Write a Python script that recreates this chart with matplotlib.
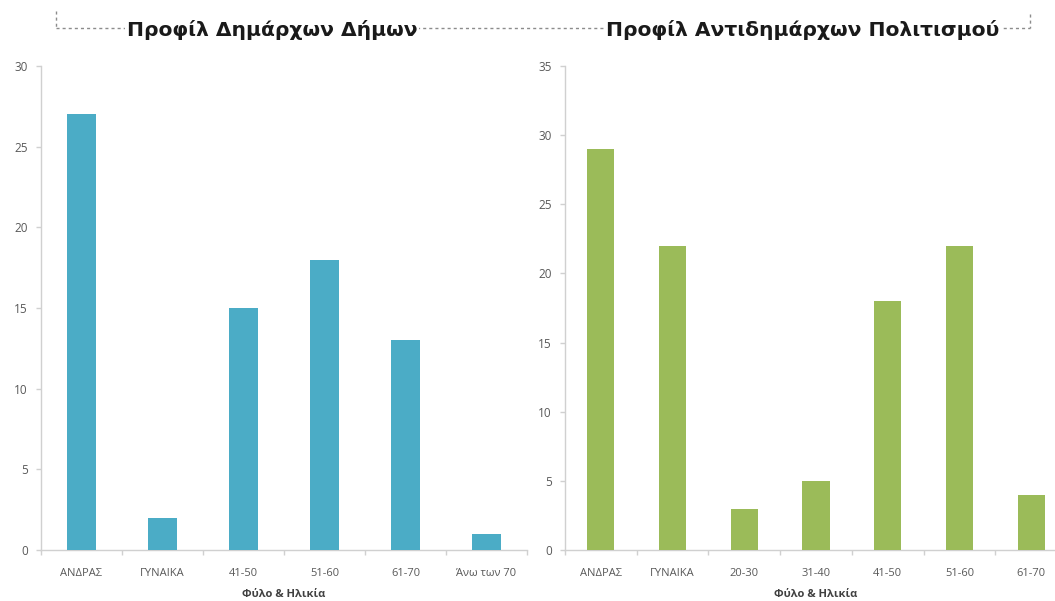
import matplotlib
matplotlib.use("Agg")
import matplotlib.pyplot as plt
from matplotlib.lines import Line2D

plt.rcParams['font.family'] = ['Open Sans', 'DejaVu Sans']

# Data
left_title = "Προφίλ Δημάρχων Δήμων"
left_categories = ["ΑΝΔΡΑΣ", "ΓΥΝΑΙΚΑ", "41-50", "51-60", "61-70", "Άνω των 70"]
left_values = [27, 2, 15, 18, 13, 1]

right_title = "Προφίλ Αντιδημάρχων Πολιτισμού"
right_categories = ["ΑΝΔΡΑΣ", "ΓΥΝΑΙΚΑ", "20-30", "31-40", "41-50", "51-60", "61-70"]
right_values = [29, 22, 3, 5, 18, 22, 4]

xlabel = "Φύλο & Ηλικία"

W, H = 1055, 601
fig = plt.figure(figsize=(W / 100, H / 100), dpi=100)

def px_axes(x0, x1, y_top, y_bot):
    return [x0 / W, (H - y_bot) / H, (x1 - x0) / W, (y_bot - y_top) / H]

ax1 = fig.add_axes(px_axes(41, 527, 66, 550))
ax2 = fig.add_axes(px_axes(565, 1067, 66, 550))

def style(ax, cats, vals, color, ymax, width):
    x = range(len(cats))
    ax.bar(x, vals, width=width, color=color, zorder=3)
    ax.set_xlim(-0.5, len(cats) - 0.5)
    ax.set_ylim(0, ymax)
    ax.set_yticks(range(0, ymax + 1, 5))
    ax.set_xticks(list(x))
    ax.set_xticklabels(cats)
    ax.set_xticks([i + 0.5 for i in range(-1, len(cats))], minor=True)
    for s in ['top', 'right']:
        ax.spines[s].set_visible(False)
    for s in ['left', 'bottom']:
        ax.spines[s].set_color('#D0D0D0')
        ax.spines[s].set_linewidth(1.0)
    ax.tick_params(axis='y', colors='#D0D0D0', labelcolor='#595959', labelsize=8.5, length=3.5, width=1, pad=6)
    ax.tick_params(axis='x', which='major', length=0, labelcolor='#595959', labelsize=8, pad=13)
    ax.tick_params(axis='x', which='minor', colors='#D0D0D0', length=3.5, width=1)
    ax.set_xlabel(xlabel, fontsize=8, fontweight='bold', color='#404040', labelpad=7)

style(ax1, left_categories, left_values, '#4BACC6', 30, 0.37)
style(ax2, right_categories, right_values, '#9BBB59', 35, 0.38)

# dotted title frame
lc = '#8C8C8C'
def fl(xs, ys):
    fig.add_artist(Line2D([x / W for x in xs], [(H - y) / H for y in ys],
                          color=lc, linestyle=(0, (2.2, 2.2)), linewidth=1.0))
fl([56, 56], [11, 27.5])
fl([56, 1030], [27.5, 27.5])
fl([1030, 1030], [14, 27.5])

tkw = dict(fontsize=14.6, fontweight='bold', color='#1a1a1a', ha='center', va='center',
           family=['DejaVu Sans'],
           bbox=dict(facecolor='white', edgecolor='none', pad=1.0))
fig.text(272 / W, (H - 30) / H, left_title, **tkw)
fig.text(803 / W, (H - 30) / H, right_title, **tkw)

fig.savefig("out.png", dpi=100)
